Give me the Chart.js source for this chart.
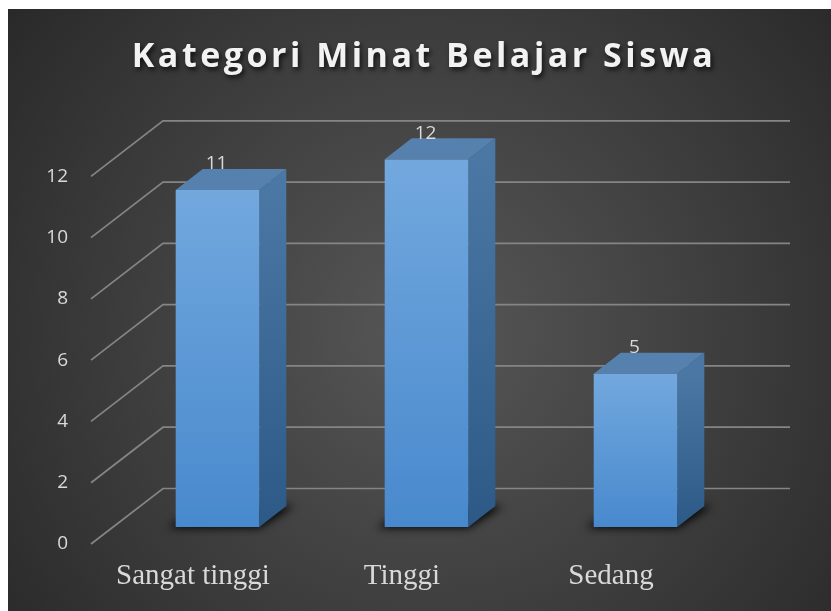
<!DOCTYPE html>
<html><head><meta charset="utf-8">
<style>html,body{margin:0;padding:0;background:#fff;overflow:hidden}canvas{display:block}</style>
<script src="https://cdn.jsdelivr.net/npm/chart.js@4.4.1/dist/chart.umd.min.js"></script>
</head><body>
<canvas id="c" width="831" height="611"></canvas>
<script>
// ---- data ----
const categories = ['Sangat tinggi', 'Tinggi', 'Sedang'];
const values = [11, 12, 5];
const yTickValues = [0, 2, 4, 6, 8, 10, 12];
const chartTitle = 'Kategori Minat Belajar Siswa';

// ---- 3D look (styles only) ----
const DEPTH_X = 27, DEPTH_Y = -21;      // bar depth
const WALL_X = 50, WALL_Y = -38.5;      // back wall offset from bar plane
const FRONT_X = -22, FRONT_Y = 17;      // front edge offset from bar plane
const TITLE_SPACING = 3.5;

const scene3d = {
  id: 'scene3d',
  beforeDraw(chart) {
    const {ctx, width, height} = chart;
    ctx.save();
    ctx.fillStyle = '#ffffff';
    ctx.fillRect(0, 0, width, height);
    const g = ctx.createRadialGradient(430, 330, 0, 430, 330, 580);
    g.addColorStop(0, '#575757');
    g.addColorStop(1, '#252525');
    ctx.fillStyle = g;
    ctx.fillRect(8, 9, width - 8, height - 9);
    ctx.restore();
    // state used while the title is drawn
    ctx.save();
    ctx.shadowColor = 'rgba(0,0,0,0.7)';
    ctx.shadowBlur = 5;
    ctx.shadowOffsetX = 2;
    ctx.shadowOffsetY = 3;
    ctx.letterSpacing = TITLE_SPACING + 'px';
    ctx.translate(1 + (chartTitle.length) * TITLE_SPACING / 2, 0);
  },
  beforeDatasetsDraw(chart) {
    const ctx = chart.ctx;
    ctx.restore();
    ctx.letterSpacing = '0px';
    ctx.shadowColor = 'rgba(0,0,0,0)';
    ctx.shadowBlur = 0;
    ctx.shadowOffsetX = 0;
    ctx.shadowOffsetY = 0;
    const y = chart.scales.y;
    const area = chart.chartArea;
    ctx.save();
    ctx.strokeStyle = '#858585';
    ctx.lineWidth = 1.7;
    y.ticks.forEach(t => {
      const py = y.getPixelForValue(t.value);
      ctx.beginPath();
      ctx.moveTo(area.left + FRONT_X, py + FRONT_Y);
      ctx.lineTo(area.left + WALL_X, py + WALL_Y);
      ctx.lineTo(area.right + WALL_X, py + WALL_Y);
      ctx.stroke();
    });
    ctx.restore();

    const meta = chart.getDatasetMeta(0);
    meta.data.forEach(bar => {
      const {x, y: top, base, width} = bar.getProps(['x', 'y', 'base', 'width'], true);
      const l = x - width / 2, r = x + width / 2;
      // soft floor shadow (shadow only, shape drawn off-canvas)
      ctx.save();
      const off = 5000;
      ctx.fillStyle = '#000';
      ctx.shadowColor = 'rgba(0,0,0,0.95)';
      ctx.shadowBlur = 9;
      ctx.shadowOffsetX = off;
      ctx.beginPath();
      ctx.moveTo(l - 8 - off, base + 1);
      ctx.lineTo(r - off, base + 1);
      ctx.lineTo(r + DEPTH_X + 8 - off, base + DEPTH_Y);
      ctx.lineTo(l + DEPTH_X - off, base + DEPTH_Y);
      ctx.closePath();
      ctx.fill();
      ctx.restore();
      // side face
      ctx.save();
      const sg = ctx.createLinearGradient(0, top, 0, base);
      sg.addColorStop(0, '#4b77a5');
      sg.addColorStop(1, '#2c5985');
      ctx.fillStyle = sg;
      ctx.beginPath();
      ctx.moveTo(r, top);
      ctx.lineTo(r + DEPTH_X, top + DEPTH_Y);
      ctx.lineTo(r + DEPTH_X, base + DEPTH_Y);
      ctx.lineTo(r, base);
      ctx.closePath();
      ctx.fill();
      // top face
      ctx.fillStyle = '#5681ae';
      ctx.beginPath();
      ctx.moveTo(l, top);
      ctx.lineTo(l + DEPTH_X, top + DEPTH_Y);
      ctx.lineTo(r + DEPTH_X, top + DEPTH_Y);
      ctx.lineTo(r, top);
      ctx.closePath();
      ctx.fill();
      ctx.restore();
    });
  },
  afterDatasetsDraw(chart) {
    const ctx = chart.ctx;
    const meta = chart.getDatasetMeta(0);
    ctx.save();
    ctx.letterSpacing = '0px';
    ctx.font = '19px "Open Sans"';
    ctx.fillStyle = '#d9d9d9';
    ctx.textAlign = 'center';
    ctx.textBaseline = 'middle';
    meta.data.forEach((bar, i) => {
      ctx.fillText(String(values[i]), bar.x - 1, bar.y - 26);
    });
    ctx.restore();
  }
};

function frontGradient(c) {
  const chart = c.chart;
  const ys = chart.scales && chart.scales.y;
  if (!ys || !chart.chartArea) return '#5b9bd5';
  const t = ys.getPixelForValue(values[c.dataIndex]);
  const b = ys.getPixelForValue(0);
  if (!isFinite(t) || !isFinite(b) || t === b) return '#5b9bd5';
  const g = chart.ctx.createLinearGradient(0, t, 0, b);
  g.addColorStop(0, '#72a8de');
  g.addColorStop(1, '#4889cd');
  return g;
}

new Chart(document.getElementById('c'), {
  type: 'bar',
  data: {
    labels: categories,
    datasets: [{
      data: values,
      backgroundColor: frontGradient,
      borderWidth: 0,
      categoryPercentage: 1,
      barPercentage: 0.4
    }]
  },
  options: {
    responsive: false,
    animation: false,
    layout: {padding: {left: 8, top: 9, right: 91, bottom: 0}},
    plugins: {
      legend: {display: false},
      tooltip: {enabled: false},
      title: {
        display: true,
        text: chartTitle,
        color: '#f2f2f2',
        font: {family: '"Open Sans"', size: 34, weight: 'bold', lineHeight: 1.2},
        padding: {top: 28, bottom: 81.5}
      }
    },
    scales: {
      x: {
        grid: {display: false, drawTicks: false, z: 1},
        border: {display: false, z: 1},
        ticks: {
          z: 1,
          color: '#d9d9d9',
          font: {family: '"Liberation Serif", "Times New Roman", serif', size: 29},
          padding: 32,
          labelOffset: -24.5,
          maxRotation: 0
        },
        afterFit: s => { s.height = 84; }
      },
      y: {
        min: 0,
        max: 12,
        grid: {display: false, drawTicks: false, z: 1},
        border: {display: false, z: 1},
        afterBuildTicks: s => { s.ticks = yTickValues.map(v => ({value: v})); },
        ticks: {
          z: 1,
          color: '#d9d9d9',
          font: {family: '"Open Sans"', size: 19},
          padding: 45,
          labelOffset: 17
        },
        afterFit: s => { s.width = 105; }
      }
    }
  },
  plugins: [scene3d]
});
</script>
</body></html>
